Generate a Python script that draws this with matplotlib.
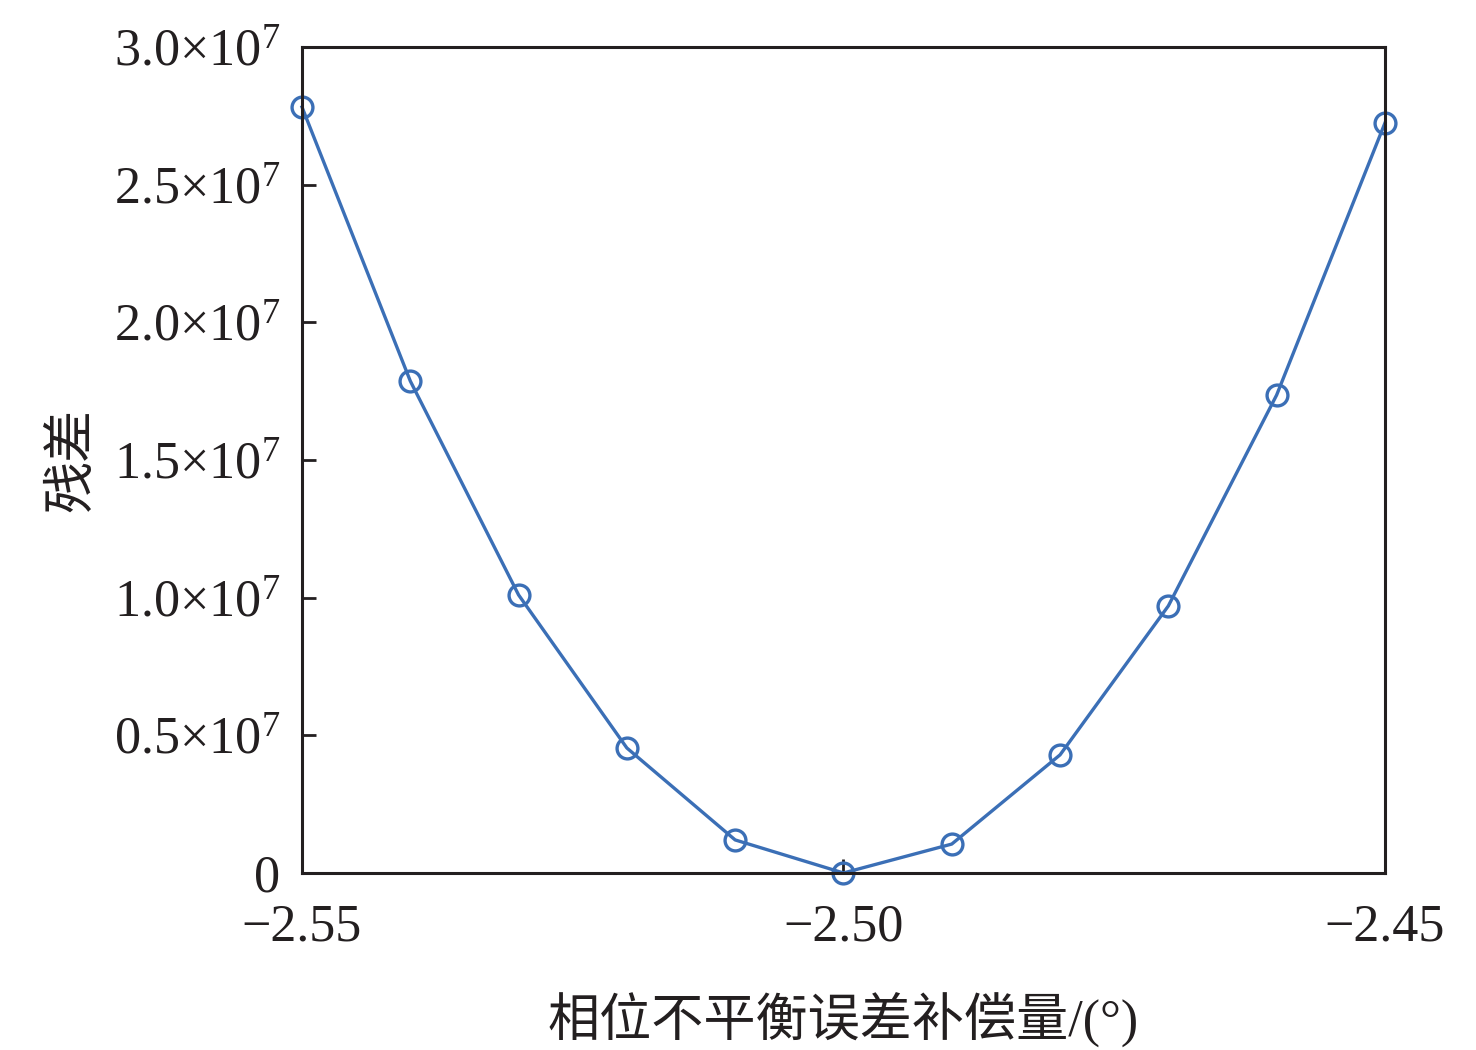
import numpy as np
import matplotlib
matplotlib.use("Agg")
import matplotlib.pyplot as plt

plt.rcParams['font.family'] = ['Liberation Serif', 'Noto Sans CJK SC', 'DejaVu Sans']
plt.rcParams['mathtext.fontset'] = 'custom'
plt.rcParams['mathtext.rm'] = 'Liberation Serif'
plt.rcParams['mathtext.it'] = 'Liberation Serif:italic'
plt.rcParams['axes.unicode_minus'] = True

# data
offsets = [-2.55, -2.54, -2.53, -2.52, -2.51, -2.50, -2.49, -2.48, -2.47, -2.46, -2.45]
residuals = [2.782e7, 1.787e7, 1.010e7, 0.454e7, 0.120e7, 0.0,
             0.105e7, 0.429e7, 0.970e7, 1.736e7, 2.724e7]

xticks = [-2.55, -2.50, -2.45]
xticklabels = ['\u22122.55', '\u22122.50', '\u22122.45']
yticks = [0, 0.5e7, 1.0e7, 1.5e7, 2.0e7, 2.5e7, 3.0e7]
yticklabels = ['0', r'0.5$\times$10$^{7}$', r'1.0$\times$10$^{7}$', r'1.5$\times$10$^{7}$',
               r'2.0$\times$10$^{7}$', r'2.5$\times$10$^{7}$', r'3.0$\times$10$^{7}$']

fig = plt.figure(figsize=(14.76, 10.5), dpi=100)
ax = fig.add_axes([0.2046, 0.1686, 0.7337, 0.7866])

ax.plot(offsets, residuals, '-o', color='#3b6fb6', linewidth=2.4,
        markersize=15, markerfacecolor='none', markeredgewidth=2.4, clip_on=False)

ax.set_xlim(-2.55, -2.45)
ax.set_ylim(0, 3.0e7)
ax.set_xticks(xticks)
ax.set_xticklabels(xticklabels)
ax.set_yticks(yticks)
ax.set_yticklabels(yticklabels)

ax.tick_params(direction='in', length=10, width=2, labelsize=37.5,
               colors='#231f20')
ax.tick_params(axis='x', pad=22)
ax.tick_params(axis='y', pad=16)
for s in ax.spines.values():
    s.set_linewidth(2.2)
    s.set_color('#231f20')

ax.set_xlabel('相位不平衡误差补偿量/(°)', fontsize=37.5, labelpad=30, color='#231f20')
ax.set_ylabel('残差', fontsize=37.5, labelpad=12, color='#231f20')

fig.savefig('out.png', dpi=100)
